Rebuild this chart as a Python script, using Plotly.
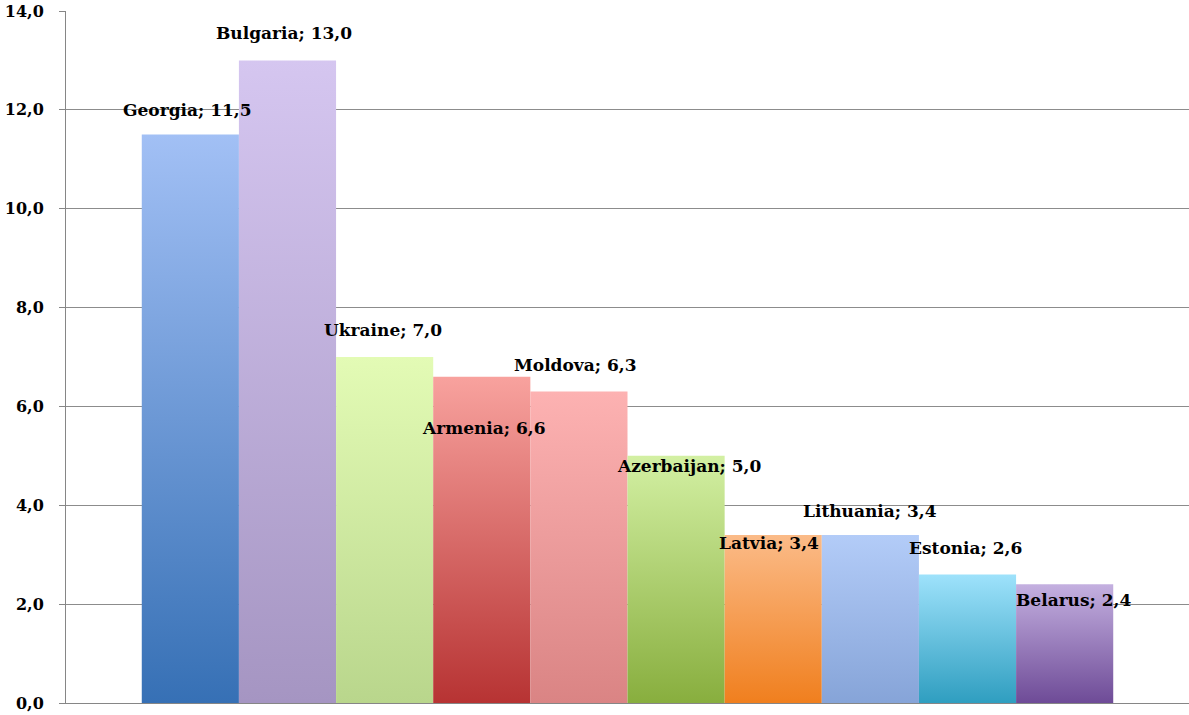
import plotly.graph_objects as go

# Values per country
countries = ["Georgia", "Bulgaria", "Ukraine", "Armenia", "Moldova",
             "Azerbaijan", "Latvia", "Lithuania", "Estonia", "Belarus"]
values = [11.5, 13.0, 7.0, 6.6, 6.3, 5.0, 3.4, 3.4, 2.6, 2.4]

# Y axis ticks
y_ticks = [0, 2, 4, 6, 8, 10, 12, 14]

# Gradient colours per bar (bottom, top)
bar_colors = [
    ("#3670b5", "#a2c0f5"),
    ("#a595c2", "#d5c6f0"),
    ("#b9d68c", "#e3fbb5"),
    ("#b73333", "#f8a29e"),
    ("#da8484", "#fdb2b2"),
    ("#88ae3e", "#d3f0a3"),
    ("#f07f1e", "#fbbb88"),
    ("#86a4d8", "#b3ccf8"),
    ("#2f9ec0", "#9ee2fb"),
    ("#6e4b97", "#c4b0e0"),
]

# Label offsets in pixels (x, y) from the top-centre of each bar
label_offsets = [(-3, 25), (-3, 27), (-2, 27), (2, -51), (-3, 27),
                 (13, -10), (-4, -8), (0, 24), (-2, 26), (9, -16)]

fig = go.Figure()

for i, (name, val) in enumerate(zip(countries, values)):
    lo, hi = bar_colors[i]
    fig.add_trace(go.Scatter(
        x=[i - 0.5, i + 0.5, i + 0.5, i - 0.5, i - 0.5],
        y=[0, 0, val, val, 0],
        mode="lines",
        line=dict(width=0),
        fill="toself",
        fillgradient=dict(type="vertical",
                          colorscale=[[0, lo], [1, hi]]),
        hoverinfo="skip",
        showlegend=False,
    ))

label_font = dict(family="DejaVu Serif", size=17, color="#000000",
                  weight="bold")
for i, (name, val) in enumerate(zip(countries, values)):
    dx, dy = label_offsets[i]
    fig.add_annotation(
        x=i, y=val, xref="x", yref="y",
        text=f"{name}; {val:.1f}".replace(".", ","),
        showarrow=False, xshift=dx, yshift=dy,
        font=label_font,
    )

fig.update_layout(
    width=1189, height=715,
    margin=dict(l=66, r=0, t=11, b=12),
    paper_bgcolor="white", plot_bgcolor="white",
    separators=", ",
    showlegend=False,
    font=dict(family="DejaVu Serif", size=16, color="#000000"),
)
fig.update_xaxes(
    range=[-1.28, 10.28], showgrid=False, zeroline=False,
    showticklabels=False, ticks="",
    showline=True, linecolor="#868686", linewidth=1,
)
fig.update_yaxes(
    range=[0, 14], tickvals=y_ticks, tickformat=".1f",
    showgrid=True, gridcolor="#8c8c8c", gridwidth=1,
    zeroline=False, showline=True, linecolor="#868686", linewidth=1,
    ticks="outside", ticklen=6, tickcolor="#868686",
    ticklabelstandoff=12,
    tickfont=dict(family="DejaVu Serif", size=16, color="#000000",
                  weight="bold"),
)

fig.write_html("out.html")
